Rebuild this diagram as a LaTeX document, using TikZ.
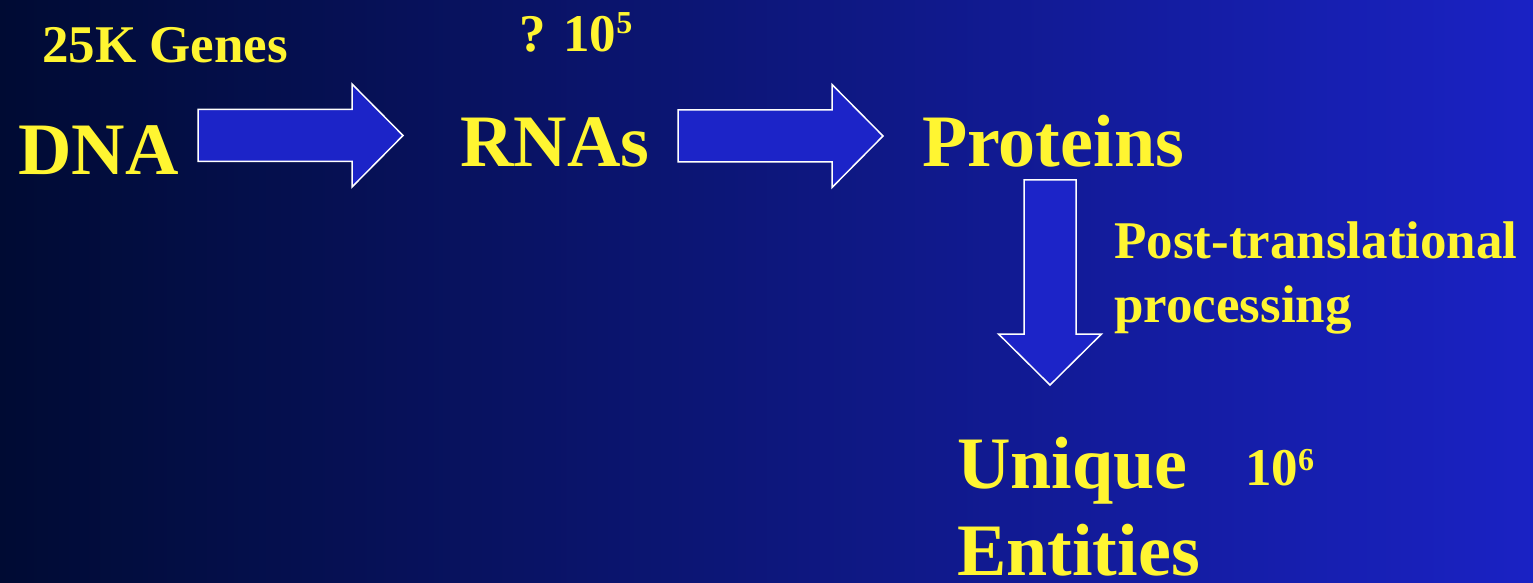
\documentclass[tikz,border=0pt]{standalone}
\usepackage{fontspec}
\setmainfont{Liberation Serif}
\definecolor{bgleft}{RGB}{0,11,51}
\definecolor{bgmid}{RGB}{16,20,138}
\definecolor{bgright}{RGB}{26,34,196}
\definecolor{arrowblue}{RGB}{28,36,200}
\definecolor{slideyellow}{RGB}{255,245,49}
\newcommand{\supnum}[2]{\raisebox{#2}{\fontsize{32}{32}\selectfont #1}}

\begin{document}
\begin{tikzpicture}[x=1pt,y=1pt,
    big/.style={text=slideyellow,inner sep=0pt,anchor=base west,align=left,
      font=\fontsize{74}{87}\selectfont\bfseries},
    small/.style={text=slideyellow,inner sep=0pt,anchor=base west,align=left,
      font=\fontsize{53}{64}\selectfont\bfseries}]
    \shade[left color=bgleft,middle color=bgmid,right color=bgright] (0,0) rectangle (1533,582);
    \useasboundingbox (0,0) rectangle (1533,582);
    \node[small] (genes) at (42,519) {25K Genes};
    \node[small] (rnacount) at (519,530) {? 10\supnum{5}{18pt}};
    \node[big] (dna) at (18,407) {DNA};
    \node[big] (rna) at (460,415) {RNAs};
    \node[big] (prot) at (922,415) {Proteins};
    \node[small] (ptp) at (1114,260) {Post-translational\\processing};
    \node[big] (uniq) at (957,7) {Unique\\Entities};
    \node[small] (entcount) at (1245,97) {10\supnum{6}{15pt}};
    \coordinate (dnarna) at (198,446.5);
    \coordinate (rnaprot) at (678,446);
    \coordinate (protuniq) at (1050,402);
    \foreach \a/\b in {dnarna/0,rnaprot/0,protuniq/-90}{
      \begin{scope}[shift={(\a)},rotate=\b]
        \draw[white,fill=arrowblue,line width=1.5pt] (0,-26) -- (154,-26) -- (154,-51.5) -- (205,0) -- (154,51.5) -- (154,26) -- (0,26) -- cycle;
      \end{scope}
    }
  \end{tikzpicture}
\end{document}
